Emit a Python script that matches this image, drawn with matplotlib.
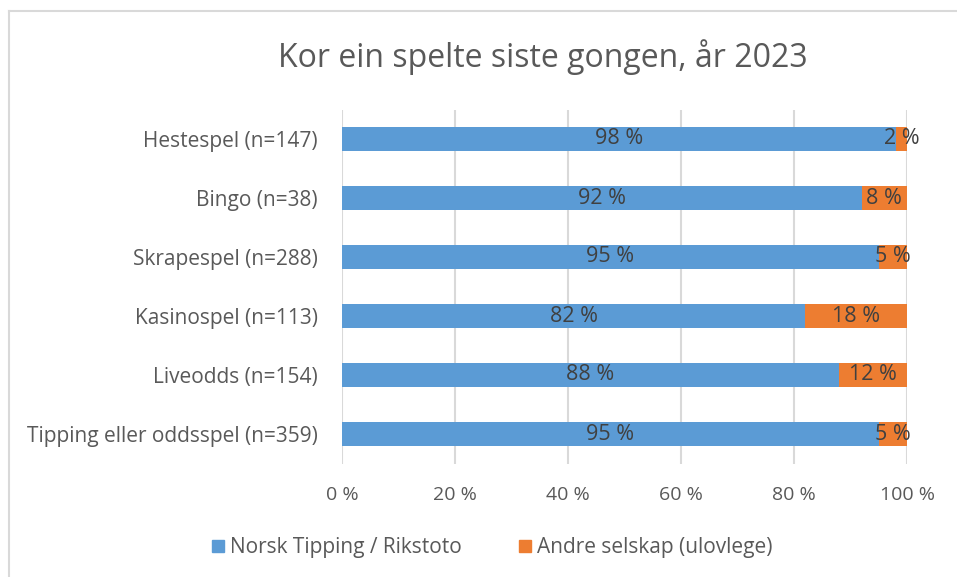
import matplotlib.pyplot as plt
from matplotlib.lines import Line2D

categories = ["Hestespel (n=147)", "Bingo (n=38)", "Skrapespel (n=288)",
              "Kasinospel (n=113)", "Liveodds (n=154)", "Tipping eller oddsspel (n=359)"]
norsk = [98, 92, 95, 82, 88, 95]
andre = [2, 8, 5, 18, 12, 5]
series_names = ["Norsk Tipping / Rikstoto", "Andre selskap (ulovlege)"]
xticks = [0, 20, 40, 60, 80, 100]

plt.rcParams['font.family'] = ['Open Sans', 'DejaVu Sans']
TXT = '#595959'
BLUE = '#5B9BD5'
ORANGE = '#ED7D31'

W, H = 957, 577
fig = plt.figure(figsize=(W/100, H/100), dpi=100)
ax = fig.add_axes([342/W, 1-463.5/H, (907-342)/W, (463.5-109.5)/H])

y = list(range(len(categories)))
h = 0.41
b1 = ax.barh(y, norsk, height=h, color=BLUE, label=series_names[0], zorder=3)
b2 = ax.barh(y, andre, left=norsk, height=h, color=ORANGE, label=series_names[1], zorder=3)
ax.bar_label(b1, labels=[f"{v} %" for v in norsk], label_type='center', color='#404040', fontsize=15.5)
ax.bar_label(b2, labels=[f"{v} %" for v in andre], label_type='center', color='#404040', fontsize=15.5)

ax.set_ylim(len(categories)-0.5, -0.5)
ax.set_xlim(0, 100)
ax.set_yticks(y)
ax.set_yticklabels(categories, fontsize=15, color=TXT)
ax.set_xticks(xticks)
ax.set_xticklabels([f"{t} %" for t in xticks], fontsize=14, color=TXT)
ax.tick_params(axis='x', length=0, pad=16.5)
ax.tick_params(axis='y', length=0, pad=17.5)
ax.xaxis.grid(True, color='#D9D9D9', linewidth=1.5, zorder=0)
for s in ax.spines.values():
    s.set_visible(False)

fig.text(543/W, 1-57/H, "Kor ein spelte siste gongen, år 2023", ha='center', va='center',
         fontsize=23, color=TXT)

handles = [Line2D([], [], marker='s', linestyle='none', markersize=9, color=BLUE),
           Line2D([], [], marker='s', linestyle='none', markersize=9, color=ORANGE)]
fig.legend(handles, series_names, loc='center', bbox_to_anchor=(490/W, 1-548/H), ncol=2,
           frameon=False, fontsize=15, labelcolor=TXT, handletextpad=0.1, columnspacing=2.5,
           handlelength=1.0)

# outer chart border (top and left visible)
fig.add_artist(Line2D([9/W, 9/W], [0, 1-11/H], color='#D9D9D9', linewidth=1.5, transform=fig.transFigure))
fig.add_artist(Line2D([9/W, 1], [1-11/H, 1-11/H], color='#D9D9D9', linewidth=1.5, transform=fig.transFigure))

fig.savefig("out.png", dpi=100)
